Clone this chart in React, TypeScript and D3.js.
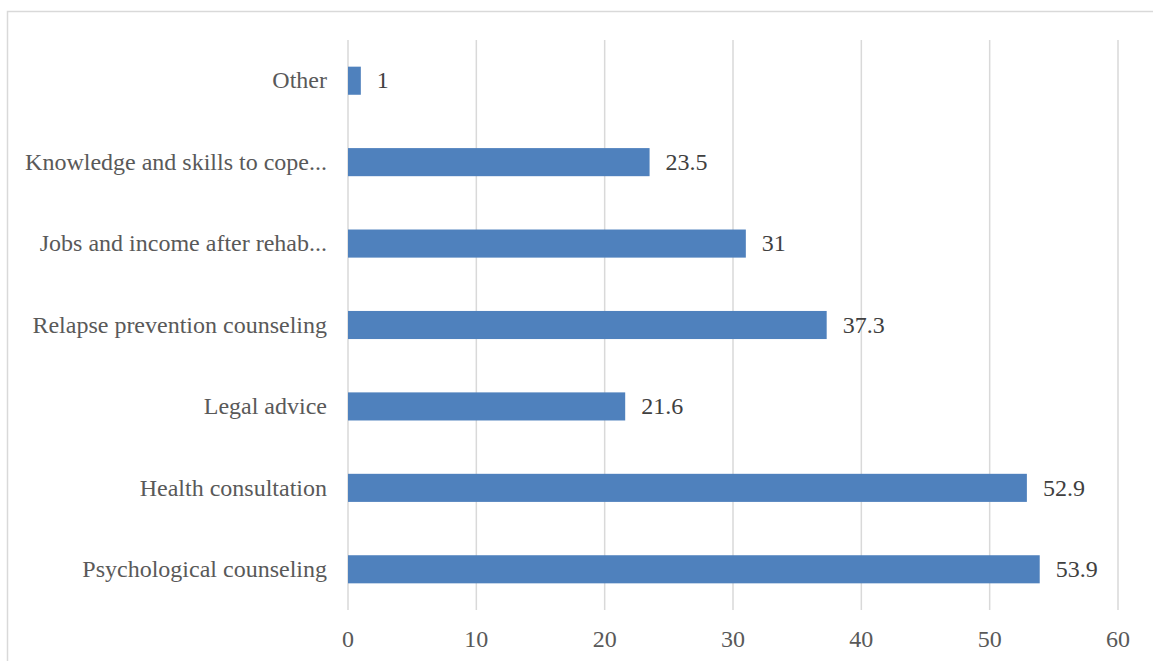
import React from "react";
import * as d3 from "d3";

const categories = [
  "Psychological counseling",
  "Health consultation",
  "Legal advice",
  "Relapse prevention counseling",
  "Jobs and income after rehab...",
  "Knowledge and skills to cope...",
  "Other",
];
const values = [53.9, 52.9, 21.6, 37.3, 31, 23.5, 1];
const valueLabels = ["53.9", "52.9", "21.6", "37.3", "31", "23.5", "1"];
const xTicks = [0, 10, 20, 30, 40, 50, 60];

const W = 1153;
const H = 661;
const left = 348;
const right = 1118;
const top = 40;
const bottom = 610;
const FONT = "Liberation Serif, serif";
const FS = 24;

export default function App() {
  const x = d3.scaleLinear().domain([0, 60]).range([left, right]);
  const y = d3
    .scaleBand<string>()
    .domain([...categories].reverse())
    .range([top, bottom])
    .paddingInner(0.655)
    .paddingOuter(0.3275);

  return (
    <svg
      width={W}
      height={H}
      style={{ position: "absolute", left: 0, top: 0, background: "#fff" }}
    >
      <rect x={7.5} y={11.5} width={W + 10} height={H + 10} fill="#fff" stroke="#d9d9d9" strokeWidth={1.5} />
      {xTicks.map((t) => (
        <line key={t} x1={x(t)} x2={x(t)} y1={top} y2={bottom} stroke="#d9d9d9" strokeWidth={1.5} />
      ))}
      {categories.map((c, i) => (
        <rect
          key={c}
          x={x(0)}
          y={y(c)}
          width={x(values[i]) - x(0)}
          height={y.bandwidth()}
          fill="#4f81bd"
        />
      ))}
      {categories.map((c, i) => (
        <text
          key={"c" + c}
          x={left - 21}
          y={(y(c) as number) + y.bandwidth() / 2}
          dy="0.32em"
          textAnchor="end"
          style={{ fontFamily: FONT, fontSize: FS }}
          fill="#595959"
        >
          {c}
        </text>
      ))}
      {categories.map((c, i) => (
        <text
          key={"v" + c}
          x={x(values[i]) + 16}
          y={(y(c) as number) + y.bandwidth() / 2}
          dy="0.32em"
          textAnchor="start"
          style={{ fontFamily: FONT, fontSize: FS }}
          fill="#404040"
        >
          {valueLabels[i]}
        </text>
      ))}
      {xTicks.map((t) => (
        <text
          key={"t" + t}
          x={x(t)}
          y={639}
          dy="0.32em"
          textAnchor="middle"
          style={{ fontFamily: FONT, fontSize: FS }}
          fill="#595959"
        >
          {t}
        </text>
      ))}
    </svg>
  );
}
